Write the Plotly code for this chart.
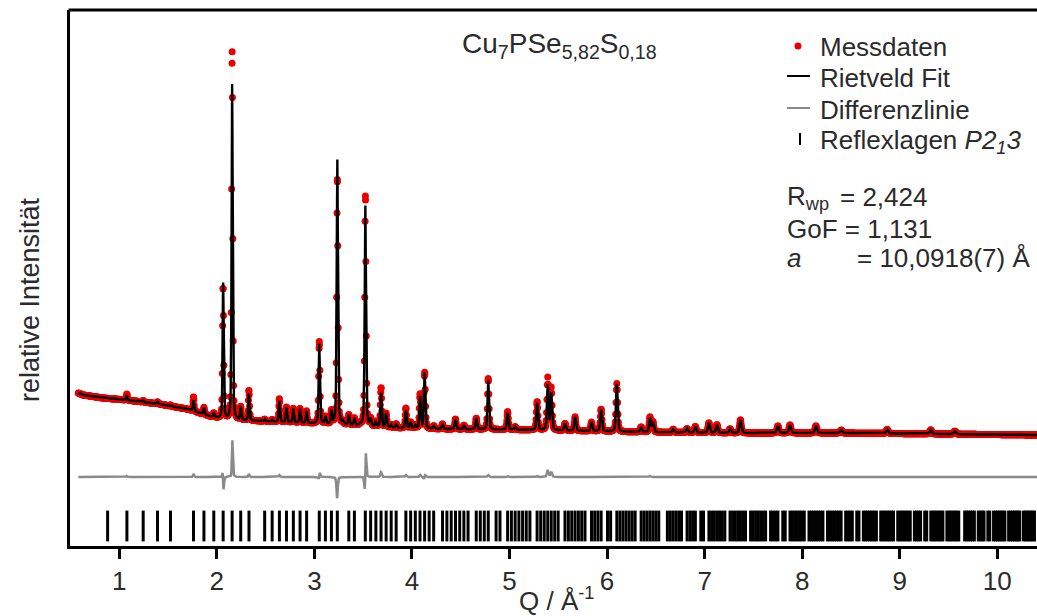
import numpy as np
import plotly.graph_objects as go

# ---------------- data ----------------
# lattice parameter (cubic, P2_13) used for the reflection markers
a_lat = 10.0918
q_start, q_end = 0.58, 10.41

# background of the pattern (relative intensity)
bg_q = [0.58, 0.63, 0.83, 1.07, 1.41, 1.52, 1.69, 1.95, 2.10, 2.41, 2.88, 3.29, 3.80, 4.22, 5.24, 6.27, 7.29, 8.38, 9.40, 10.41]
bg_i = [84, 82, 79, 77, 73, 71, 68, 60, 57, 56, 54, 52, 49, 48, 47, 45, 44, 44, 43, 42]

# reflections: position (Q / Å^-1), calculated height, observed height, observed shift
peak_q = [1.078, 1.245, 1.392, 1.525, 1.761, 1.868, 1.969, 2.065, 2.157, 2.245,
          2.329, 2.490, 2.567, 2.641, 2.714, 2.784, 2.853, 2.920, 3.050, 3.113,
          3.175, 3.235, 3.293, 3.353, 3.410, 3.467, 3.522, 3.577, 3.630, 3.683,
          3.736, 3.787, 3.838, 3.938, 3.987, 4.035, 4.083, 4.130, 4.223, 4.313,
          4.446, 4.533, 4.659, 4.782, 4.981, 5.058, 5.283, 5.392, 5.428, 5.569,
          5.672, 5.840, 5.939, 6.100, 6.349, 6.440, 6.470, 6.677, 6.820, 6.905,
          7.044, 7.126, 7.261, 7.367, 7.751, 7.875, 8.141, 8.400, 8.871, 9.318,
          9.565]
peak_calc = [5, 1.5, 2, 1, 11, 7, 4, 136, 336, 13,
             27, 2, 2, 21, 15, 14, 14, 12, 80, 7,
             13, 265, 3, 10, 7, 2, 221, 7, 5, 34,
             14, 3, 4, 18, 6, 3, 32, 56, 3, 5,
             10, 4, 11, 49, 17, 3, 27, 45, 37, 7,
             14, 9, 22, 48, 5, 14, 10, 3, 4, 6,
             10, 8, 4, 13, 7, 8, 7, 3, 4, 4,
             3]
peak_obs = [6, 1.5, 2, 1, 14, 7, 4, 130, 368, 13,
            30, 2, 2, 23, 15, 14, 14, 12, 82, 7,
            13, 245, 3, 10, 7, 2, 230, 7, 5, 39,
            14, 3, 4, 20, 6, 3, 34, 56, 3, 5,
            10, 4, 11, 51, 18, 3, 28, 52, 42, 7,
            14, 9, 22, 48, 5, 15, 10, 3, 4, 6,
            10, 8, 4, 13, 7, 8, 7, 3, 4, 4,
            3]
peak_shift = [0.0] * len(peak_q)
for _q, _s in [(2.065, -0.0006), (2.157, 0.0003), (3.050, 0.0004), (3.235, 0.0002), (3.522, 0.0009), (4.130, 0.0004)]:
    peak_shift[peak_q.index(_q)] = _s

x_ticks = [1, 2, 3, 4, 5, 6, 7, 8, 9, 10]

# ---------------- profile model ----------------
def fwhm(q):
    return 0.010 + 0.0015 * q

def pv(x, w, eta=0.45):
    t = (x / w) ** 2
    return eta / (1 + 4 * t) + (1 - eta) * np.exp(-4 * np.log(2) * t)

def profile(q, heights, shifts):
    y = np.interp(q, bg_q, bg_i).astype(float)
    for q0, h, s in zip(peak_q, heights, shifts):
        y += h * pv(q - q0 - s, fwhm(q0))
    return y

q_obs = np.concatenate([np.arange(q_start, q_end, 0.004),
                        np.array(peak_q) + np.array(peak_shift)])
q_obs = np.unique(np.round(q_obs, 6))
q_fit = np.arange(q_start, q_end, 0.0008)

zero_shift = [0.0] * len(peak_q)
i_obs = profile(q_obs, peak_obs, peak_shift)
i_calc_obsgrid = profile(q_obs, peak_calc, zero_shift)
i_fit = profile(q_fit, peak_calc, zero_shift)
i_diff = i_obs - i_calc_obsgrid

# reflection positions of P2_13 (h00: h = 2n)
refl_N = sorted({h * h + k * k + l * l
                 for h in range(18) for k in range(h + 1) for l in range(k + 1)
                 if (h * h + k * k + l * l) > 0 and not (k == 0 and l == 0 and h % 2 == 1)})
refl_q = [2 * np.pi * np.sqrt(n) / a_lat for n in refl_N]
refl_q = [q for q in refl_q if q <= q_end]
tick_level = -49

# ---------------- figure ----------------
W, H = 1037, 616
L, R, T, B = 70, 0, 10, 70
def px(x):
    return (x - L) / (W - L - R)
def py(y):
    return (H - B - y) / (H - T - B)

FONT = "Arial, Liberation Sans, sans-serif"
TXT = "#2b2b2b"

fig = go.Figure()
fig.add_trace(go.Scatter(x=refl_q, y=[tick_level] * len(refl_q), mode="markers",
                         marker=dict(symbol="line-ns", size=22, line=dict(width=3, color="black")),
                         name="Reflexlagen", hoverinfo="skip"))
fig.add_trace(go.Scatter(x=q_obs, y=i_diff, mode="lines",
                         line=dict(color="#8a8a8a", width=2.5), name="Differenzlinie"))
fig.add_trace(go.Scatter(x=q_obs, y=i_obs, mode="markers",
                         marker=dict(color="rgb(232,0,0)", size=7, line=dict(width=0)),
                         name="Messdaten"))
fig.add_trace(go.Scatter(x=q_fit, y=i_fit, mode="lines",
                         line=dict(color="black", width=2.4), name="Rietveld Fit"))

shapes = [
    dict(type="line", xref="paper", yref="paper", x0=px(68.5), x1=px(1040), y0=py(10), y1=py(10),
         line=dict(color="black", width=3)),
    # legend symbols
    dict(type="circle", xref="paper", yref="paper", x0=px(794.5), x1=px(801.5), y0=py(42.5), y1=py(49.5),
         fillcolor="rgb(232,0,0)", line=dict(width=0)),
    dict(type="line", xref="paper", yref="paper", x0=px(787), x1=px(810), y0=py(76), y1=py(76),
         line=dict(color="black", width=2)),
    dict(type="line", xref="paper", yref="paper", x0=px(787), x1=px(810), y0=py(108), y1=py(108),
         line=dict(color="#8a8a8a", width=2)),
    dict(type="line", xref="paper", yref="paper", x0=px(800), x1=px(800), y0=py(133), y1=py(145),
         line=dict(color="black", width=2)),
]

def ann(text, x, y, size=26, xanchor="left", yanchor="middle", angle=0):
    return dict(text=text, x=px(x), y=py(y), xref="paper", yref="paper", showarrow=False,
                xanchor=xanchor, yanchor=yanchor, textangle=angle,
                font=dict(family=FONT, size=size, color=TXT))

annotations = [
    ann("Cu<sub>7</sub>PSe<sub>5,82</sub>S<sub>0,18</sub>", 460, 46, size=28),
    ann("Messdaten", 818, 47),
    ann("Rietveld Fit", 818, 78),
    ann("Differenzlinie", 818, 110),
    ann("Reflexlagen <i>P2<sub>1</sub>3</i>", 818, 141),
    ann("R<sub>wp</sub>", 785, 197),
    ann("= 2,424", 838, 197),
    ann("GoF = 1,131", 785, 229),
    ann("<i>a</i>", 785, 258),
    ann("= 10,0918(7) Å", 855, 258),
    ann("relative Intensität", 30, 300, size=27, xanchor="center", angle=-90),
    ann("Q / Å<sup>-1</sup>", 556, 599, size=26, xanchor="center"),
]

fig.update_layout(
    width=W, height=H, margin=dict(l=L, r=R, t=T, b=B),
    paper_bgcolor="white", plot_bgcolor="white", showlegend=False,
    font=dict(family=FONT, color=TXT),
    shapes=shapes, annotations=annotations,
    xaxis=dict(range=[0.495, 10.407], showline=True, linewidth=3, linecolor="black",
               ticks="outside", ticklen=10, tickwidth=3, tickcolor="black",
               tickvals=x_ticks, ticktext=[str(v) for v in x_ticks],
               tickfont=dict(family=FONT, size=26, color=TXT),
               showgrid=False, zeroline=False),
    yaxis=dict(range=[-69, 467], showline=True, linewidth=3, linecolor="black",
               showticklabels=False, ticks="", showgrid=False, zeroline=False),
)

fig.write_html("out.html")
